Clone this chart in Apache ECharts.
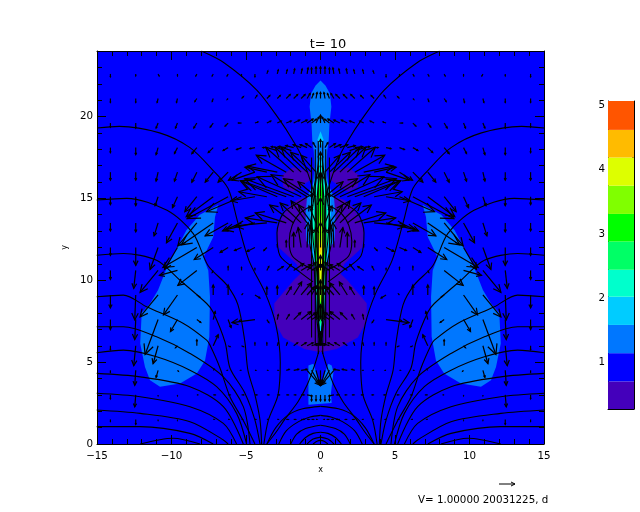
<!DOCTYPE html>
<html><head><meta charset="utf-8">
<style>html,body{margin:0;padding:0;background:#fff}#c{width:640px;height:512px}</style>
<script src="https://cdn.jsdelivr.net/npm/echarts@6/dist/echarts.min.js"></script>
</head><body><div id="c"></div>
<script>
// ---------- colour bands and their levels ----------
const bandColors = ['#4400bb','#0000ff','#0077ff','#00ccff','#00ffcc','#00ff66','#00ff00','#80ff00','#ddff00','#ffbb00','#ff5500'];
const bandLevels = [0.27,0.70,1.14,1.58,2.02,2.44,2.88,3.31,3.75,4.19,4.62,5.07];

// ---------- filled regions: profiles are [y, half width] about x=0 ----------
const purpleProfile = [[15.1,0],[15.1,0.9],[14.9,1.6],[14.45,2.2],[13.66,2.7],[12.9,2.9],[12,2.8],[11,1.6],[10.4,1.35],[10,1.8],[8.6,3.1],[7.5,3.1],[6.5,2.5],[5.8,1.1],[5.6,0]];
const purpleSmallLeft = [[-2.6,16.4],[-1.85,16.9],[-0.6,16.6],[-0.7,16.1],[-1.85,15.4],[-2.5,15.7]];
const lobeLeft = [[-6.86,14.6],[-7.08,13.86],[-7.2,12.64],[-7.86,11.4],[-7.53,10.6],[-7.42,9],[-7.46,6.55],[-7.75,5.1],[-8.3,4.3],[-9.43,3.7],[-10.77,3.5],[-11.44,3.9],[-11.78,4.7],[-12.1,6.14],[-12,8],[-11.44,8.58],[-10.9,9.4],[-10.3,10.8],[-9,13.05],[-8.1,14]];
const lightBlueColumn = [[22.2,0],[21.9,0.33],[21.4,0.63],[20.6,0.73],[19.55,0.6],[18.5,0.55],[17.9,0.45],[16.9,0.4],[15.9,0.5],[15.1,0.9],[14.05,1.0],[12.4,0.95],[12,0.65],[11,0.5],[10.4,0.35],[9,0.35],[8,0.3],[7.15,0.2],[6.3,0.15],[6.1,0]];
const lightBlueBlob = [[-0.81,4.8],[-0.48,4.9],[-0.2,4.1],[-0.03,3.5],[0.2,4.1],[0.53,4.9],[0.75,4.8],[0.87,4.4],[0.7,3.1],[0.75,2.5],[-0.81,2.4],[-0.81,3.1]];
const cyanTear = [[19.1,0],[18.6,0.2],[18.1,0]];
const cyanColumn = [[17.7,0],[17.6,0.15],[16.5,0.3],[15.3,0.65],[12.4,0.75],[12,0.55],[11,0.42],[10,0.3],[9,0.3],[8,0.25],[7.15,0.15],[6.7,0]];
const aquaColumn = [[17.6,0],[16.1,0.2],[15.1,0.45],[12.4,0.6],[12,0.45],[11,0.35],[9,0.28],[8,0.2],[7.2,0.05]];
const seaGreenColumn = [[16.5,0],[16.4,0.1],[14.9,0.3],[12.4,0.45],[12,0.35],[10,0.25],[8,0.15],[7.3,0]];
const greenColumn = [[16,0],[15.9,0.05],[14.5,0.2],[12.4,0.3],[12,0.3],[10,0.22],[8.2,0.08],[8,0]];
const limeColumn = [[15.5,0],[14,0.06],[12.4,0.25],[10,0.2],[9,0.1],[8.6,0]];
const yellowColumn = [[13,0],[11.8,0.15],[10.6,0.12],[9.6,0.05],[9.4,0]];
const orangeColumn = [[12.4,0],[12,0.08],[11.6,0]];

// ---------- field lines (left half, the right half is their reflection) ----------
const fieldLines = [
 [[-15,19.3],[-13.5,19.4],[-10.8,19],[-8.76,18.1],[-7.2,16.7],[-6.2,15.6],[-5.57,13.6],[-4.8,11.2],[-3.7,9.2],[-3,7.3],[-2.7,5],[-2.85,3],[-3.5,1.46],[-3.8,0]],
 [[-15.02,14.9],[-13,15],[-10.3,14.27],[-8.54,12.85],[-7.55,10.9],[-6.28,9.7],[-5.54,8.5],[-5.07,6.2],[-4.87,4.5],[-4.4,3],[-4.06,1.46],[-3.95,0]],
 [[-15.02,11.53],[-13.23,11.63],[-11,11.22],[-9.43,10],[-7.64,8.58],[-7.2,8.05],[-6.4,6.2],[-6.07,4.63],[-5.07,3.1],[-4.4,1.46],[-4.06,0]],
 [[-15.02,8.99],[-13.23,9.09],[-11.67,8.38],[-9.2,7.36],[-7.64,6.34],[-7.42,6.04],[-6.74,4.63],[-6.07,2.87],[-5.2,1.46],[-4.4,0]],
 [[-15.02,7.16],[-13.23,7.16],[-11,6.55],[-8.76,5.53],[-6.52,4.1],[-5.18,2.28],[-4.73,0]],
 [[-15.02,5.57],[-13.23,5.73],[-11,5.33],[-8.76,4.51],[-6.97,3.5],[-5.63,1.87],[-4.96,0]],
 [[-15.02,4.31],[-12.1,4.1],[-8.76,3.5],[-6.52,2.28],[-5.18,0]],
 [[-15.02,3.1],[-12.1,2.89],[-8.76,2.28],[-6.52,1.26],[-5.63,0]],
 [[-15.02,2.08],[-12.1,1.87],[-8.76,1.36],[-6.52,0.25],[-6.2,0]],
 [[-15.02,1.06],[-12.1,1.06],[-8.76,0.65],[-7.2,0]],
 [[-12.1,0],[-9.9,0.35],[-8.09,0]],
 [[-8,24],[-6.5,23.3],[-4.26,21.6],[-2.72,19.76],[-1.85,18.54],[-1.24,17.5],[-0.37,14.9],[-0.17,8.8],[-0.05,6]],
 [[-0.5,15.3],[-1.58,14.7],[-2.5,14.1],[-2.92,12.9],[-2.72,11.5],[-1.38,10.5],[-0.5,9.9]],
 [[-0.5,14.6],[-1.38,14.1],[-1.9,13.35],[-2.1,12.4],[-1.9,11.5],[-1.04,10.9],[-0.37,10.6]],
 [[-0.1,5.7],[-0.4,4.8],[-0.9,3.6],[-1.5,2.6],[-2.4,1.5],[-3,0.7],[-3.6,0]],
 [[-3.6,0],[-3,1],[-2.2,1.75],[-1.2,2.15],[0,2.3]],
 [[-2.8,0],[-2.3,0.8],[-1.5,1.35],[-0.7,1.65],[0,1.75]],
 [[-2,0],[-1.6,0.6],[-1,0.95],[0,1.15]],
 [[-1.4,0],[-1,0.4],[-0.5,0.65],[0,0.72]],
 [[-0.9,0],[-0.5,0.3],[0,0.42]],
 [[-0.5,0],[-0.2,0.18],[0,0.22]],
 [[-0.6,17.5],[-0.6,6.5]],
 [[-0.35,18],[-0.35,6]],
 [[-0.15,18.5],[-0.15,5.5]],
 [[-0.1,17.5],[-0.45,15],[-0.75,12.5],[-0.45,11],[-0.28,8],[-0.1,6.5]],
 [[-0.1,17],[-0.6,14.5],[-0.5,12.5],[-0.25,10.5],[-0.2,8],[-0.05,6.8]],
 [[-0.05,16.5],[-0.25,14.5],[-0.25,12.5],[-0.12,10.5],[-0.08,7.5]]
];

// ---------- velocity vectors: left half, u and v in 1/16 of the unit arrow ----------
const vectorColumns = [-14.1,-12.4,-10.9,-9.6,-8.3,-7.2,-6.2,-5.3,-4.4,-3.6,-2.9,-2.3,-1.8,-1.3,-0.9,-0.6,-0.3];
const vectorRows = [22.6,21.1,19.6,18.1,16.6,15.1,13.5,12.0,10.6,9.1,7.6,6.0,4.5,3.0,1.5];
const row01 = [[0,-3],[0,-2],[1,-2],[0,-2],[-1,-2],[-1,-2],[-1,-2],[0,-2],[0,-3],[1,3],[1,4],[1,4],[1,5],[1,5],[1,6],[0,6],[0,7]];
const row02 = [[0,-4],[0,-4],[-1,-4],[-1,-4],[-2,-3],[-1,-3],[-1,-1],[2,2],[2,3],[3,3],[3,3],[4,4],[4,4],[4,4],[3,5],[2,5],[1,6]];
const row03 = [[0,-4],[0,-5],[-2,-5],[-2,-5],[-3,-5],[-3,-4],[-3,-3],[-3,0],[3,1],[4,2],[4,2],[5,2],[6,3],[6,3],[6,4],[5,4],[3,6]];
const row04 = [[0,-5],[0,-7],[-2,-7],[-3,-6],[-5,-6],[-5,-5],[-5,-3],[-5,-2],[-5,-1],[-4,0],[-6,1],[-8,1],[-8,2],[-8,3],[-7,3],[-6,4],[-3,5]];
const row05 = [[0,-8],[0,-8],[-2,-9],[-3,-9],[-5,-10],[-8,-10],[-10,-10],[-13,-8],[-23,-8],[-22,5],[-30,6],[-30,17],[-28,25],[-26,25],[-26,25],[-21,20],[-15,17]];
const row06 = [[0,-8],[0,-9],[-3,-9],[-5,-11],[-12,-15],[-27,-20],[-41,-22],[-35,-15],[-24,-4],[-28,5],[-37,16],[-45,16],[-49,18],[-44,20],[-36,22],[-28,18],[-18,15]];
const row07 = [[0,-8],[0,-9],[-4,-13],[-11,-20],[-19,-23],[-32,-22],[-23,-13],[-19,-8],[-30,-7],[-32,-3],[-32,5],[-31,10],[-24,18],[-21,20],[-16,22],[-13,18],[-7,17]];
const row08 = [[0,-8],[0,-18],[-8,-22],[-13,-22],[-34,-20],[-19,-12],[-8,-5],[-7,-3],[-8,-4],[-3,-3],[0,3],[0,7],[0,15],[-3,20],[1,25],[-1,22],[0,20]];
const row09 = [[0,-9],[-2,-18],[-18,-22],[-18,-5],[-19,-15],[-1,-2],[0,4],[0,3],[0,2],[2,4],[6,4],[5,6],[10,7],[10,6],[9,8],[9,6],[5,5]];
const row10 = [[0,-13],[-1,-25],[-18,-22],[-14,-20],[3,-2],[0,10],[0,10],[1,1],[5,-3],[0,8],[0,9],[5,8],[8,13],[10,12],[7,8],[5,9],[3,8]];
const row11 = [[0,-10],[-1,-20],[-13,-35],[-7,-12],[4,-3],[2,8],[3,-8],[-2,-1],[-23,-3],[2,-3],[1,5],[3,5],[7,7],[10,8],[9,7],[5,3],[3,3]];
const row12 = [[0,-4],[-2,-20],[-5,-18],[-2,-2],[0,6],[5,11],[2,-1],[2,-1],[0,3],[0,3],[1,3],[1,3],[4,3],[5,3],[6,3],[6,2],[6,2]];
const row13 = [[0,-2],[-1,-15],[-2,-7],[1,-1],[0,0],[1,1],[-1,0],[-1,0],[1,0],[1,0],[1,0],[3,1],[5,1],[6,1],[13,-15],[8,-14],[4,-15]];
const row14 = [[0,-4],[-1,-12],[0,-1],[0,-1],[1,0],[2,0],[2,0],[2,0],[2,0],[2,0],[2,0],[2,0],[2,0],[3,0],[5,-1],[0,-6],[0,-6]];
const row15 = [[0,-2],[0,-5],[0,-1],[0,-1],[0,0],[1,0],[1,0],[1,0],[1,0],[1,0],[1,0],[2,0],[2,0],[3,0],[2,0],[2,0],[1,0]];
const vectorTable = [row01,row02,row03,row04,row05,row06,row07,row08,row09,row10,row11,row12,row13,row14,row15];
const centreV = [7,6,8,8,20,25,25,25,15,15,15,14,-15,-6,0];

// ---------- axes ----------
const yMajor = [0,5,10,15,20];
const yMinor = [1,2,3,4,6,7,8,9,11,12,13,14,16,17,18,19,21,22,23];
const barTicks = [1,2,3,4,5];
const barMinor = [0.4,0.6,0.8,1,1.2,1.4,1.6,1.8,2,2.2,2.4,2.6,2.8,3,3.2,3.4,3.6,3.8,4,4.2,4.4,4.6,4.8,5];
const titleText = 't= 10';
const footerText = 'V= 1.00000 20031225, d';

// ---------- helpers ----------
const PX_X = 1/14.9, PX_Y = 1/16.4;
const FONT = '"DejaVu Sans"';
const fromProfile = p => p.map(([y,w])=>[-w,y]).concat(p.slice().reverse().map(([y,w])=>[w,y]));
const mirror = p => p.map(([x,y])=>[-x,y]);

function regionSeries(color, polygons){
  return {type:'custom', coordinateSystem:'cartesian2d', xAxisIndex:0, yAxisIndex:0, clip:true, silent:true, z:2,
    data: polygons.map((_,i)=>[i]),
    renderItem:(params,api)=>({type:'polygon', shape:{points:polygons[params.dataIndex].map(p=>api.coord(p))}, style:{fill:color, stroke:null}})
  };
}

const vectors = [];
vectorTable.forEach((row,r)=>{
  row.forEach(([u,v],c)=>{
    vectors.push([vectorColumns[c],vectorRows[r],u,v]);
    vectors.push([-vectorColumns[c],vectorRows[r],-u,v]);
  });
  vectors.push([0,vectorRows[r],0,centreV[r]]);
});

function arrowItem(params,api){
  const x=api.value(0), y=api.value(1), u=api.value(2), v=api.value(3);
  const a=api.coord([x,y]), b=api.coord([x+u*PX_X,y+v*PX_Y]);
  const dx=b[0]-a[0], dy=b[1]-a[1], L=Math.hypot(dx,dy);
  if(L<0.5) return null;
  const ang=Math.atan2(dy,dx), h=L*0.3, s=0.45;
  const l=[b[0]-h*Math.cos(ang-s),b[1]-h*Math.sin(ang-s)];
  const q=[b[0]-h*Math.cos(ang+s),b[1]-h*Math.sin(ang+s)];
  const st={stroke:'#000',lineWidth:1.2,fill:null};
  return {type:'group',children:[
    {type:'line',shape:{x1:a[0],y1:a[1],x2:b[0],y2:b[1]},style:st},
    {type:'polyline',shape:{points:[l,b,q]},style:st}
  ]};
}

const lineSeries = fieldLines.concat(fieldLines.map(mirror)).map(pts=>({
  type:'line',xAxisIndex:0,yAxisIndex:0,data:pts,showSymbol:false,symbol:'none',smooth:0.3,z:3,silent:true,
  lineStyle:{color:'#000',width:1.1},animation:false
}));

const series = [
  regionSeries(bandColors[0],[fromProfile(purpleProfile),purpleSmallLeft,mirror(purpleSmallLeft)]),
  regionSeries(bandColors[2],[lobeLeft,mirror(lobeLeft),fromProfile(lightBlueColumn),lightBlueBlob]),
  regionSeries(bandColors[3],[fromProfile(cyanTear),fromProfile(cyanColumn)]),
  regionSeries(bandColors[4],[fromProfile(aquaColumn)]),
  regionSeries(bandColors[5],[fromProfile(seaGreenColumn)]),
  regionSeries(bandColors[6],[fromProfile(greenColumn)]),
  regionSeries(bandColors[7],[fromProfile(limeColumn)]),
  regionSeries(bandColors[8],[fromProfile(yellowColumn)]),
  regionSeries(bandColors[9],[fromProfile(orangeColumn)]),
  ...lineSeries,
  {type:'custom',coordinateSystem:'cartesian2d',xAxisIndex:0,yAxisIndex:0,clip:true,silent:true,z:4,
   data:vectors,encode:{x:0,y:1},renderItem:arrowItem},
  {type:'custom',coordinateSystem:'cartesian2d',xAxisIndex:2,yAxisIndex:4,silent:true,z:2,
   data:bandColors.map((c,i)=>[i]),
   renderItem:(params,api)=>{
     const i=params.dataIndex, p0=api.coord([0,bandLevels[i]]), p1=api.coord([1,bandLevels[i+1]]);
     return {type:'rect',shape:{x:p0[0],y:p1[1],width:p1[0]-p0[0],height:p0[1]-p1[1]},style:{fill:bandColors[i],stroke:null}};
   }}
];

const black={color:'#000',width:1};
const labelStyle={color:'#000',fontFamily:FONT,fontSize:10.3};
const chart = echarts.init(document.getElementById('c'),null,{renderer:'canvas'});
chart.setOption({
  animation:false,
  backgroundColor:'#fff',
  title:{text:titleText,left:323,top:33,textAlign:'center',textStyle:{color:'#000',fontFamily:FONT,fontWeight:'normal',fontSize:13}},
  grid:[{left:97,right:96,top:51,bottom:68,show:true,backgroundColor:bandColors[1],borderWidth:0,z:0},{left:608,width:26,top:101,height:308}],
  xAxis:[
    {type:'value',gridIndex:0,position:'bottom',min:-15,max:15,interval:5,name:'x',nameLocation:'middle',nameGap:20,
     nameTextStyle:{color:'#000',fontFamily:FONT,fontSize:8},
     axisLine:{onZero:false,lineStyle:black},axisTick:{inside:true,length:9,lineStyle:black},
     minorTick:{show:true,splitNumber:5,length:5,lineStyle:black},splitLine:{show:false},minorSplitLine:{show:false},
     axisLabel:{...labelStyle,margin:7,formatter:v=>v<0?'\u2212'+(-v):''+v}},
    {type:'value',gridIndex:0,position:'top',min:-15,max:15,interval:5,
     axisLine:{onZero:false,lineStyle:black},axisTick:{inside:true,length:9,lineStyle:black},
     minorTick:{show:true,splitNumber:5,length:5,lineStyle:black},splitLine:{show:false},axisLabel:{show:false}},
    {type:'value',gridIndex:1,position:'bottom',min:0,max:1,axisLine:{onZero:false,lineStyle:black},axisTick:{show:false},splitLine:{show:false},axisLabel:{show:false}}
  ],
  yAxis:[
    {type:'value',gridIndex:0,position:'left',min:0,max:24,name:'y',nameLocation:'middle',nameGap:18,
     nameTextStyle:{color:'#000',fontFamily:FONT,fontSize:8},
     axisLine:{onZero:false,lineStyle:black},axisTick:{inside:true,length:9,lineStyle:black,customValues:yMajor},
     splitLine:{show:false},axisLabel:{...labelStyle,margin:4,customValues:yMajor}},
    {type:'value',gridIndex:0,position:'left',min:0,max:24,
     axisLine:{onZero:false,show:false},axisTick:{inside:true,length:5,lineStyle:black,customValues:yMinor},
     splitLine:{show:false},axisLabel:{show:false,customValues:yMinor}},
    {type:'value',gridIndex:0,position:'right',min:0,max:24,
     axisLine:{onZero:false,lineStyle:black},axisTick:{inside:true,length:9,lineStyle:black,customValues:yMajor},
     splitLine:{show:false},axisLabel:{show:false,customValues:yMajor}},
    {type:'value',gridIndex:0,position:'right',min:0,max:24,
     axisLine:{onZero:false,show:false},axisTick:{inside:true,length:5,lineStyle:black,customValues:yMinor},
     splitLine:{show:false},axisLabel:{show:false,customValues:yMinor}},
    {type:'value',gridIndex:1,position:'left',min:0.27,max:5.07,
     axisLine:{onZero:false,lineStyle:black},axisTick:{inside:true,length:3,lineStyle:black,customValues:barTicks},
     splitLine:{show:false},axisLabel:{...labelStyle,margin:3,customValues:barTicks}},
    {type:'value',gridIndex:1,position:'right',min:0.27,max:5.07,
     axisLine:{onZero:false,lineStyle:black},axisTick:{inside:true,length:2,lineStyle:black,customValues:barMinor},
     splitLine:{show:false},axisLabel:{show:false,customValues:barMinor}}
  ],
  graphic:[
    {type:'text',left:418,top:495,style:{text:footerText,fill:'#000',font:'10.3px '+FONT}},
    {type:'line',shape:{x1:499,y1:484,x2:515,y2:484},style:{stroke:'#000',lineWidth:1}},
    {type:'polyline',shape:{points:[[511,482],[515,484],[511,486]]},style:{stroke:'#000',lineWidth:1,fill:null}}
  ],
  series
});
</script></body></html>
